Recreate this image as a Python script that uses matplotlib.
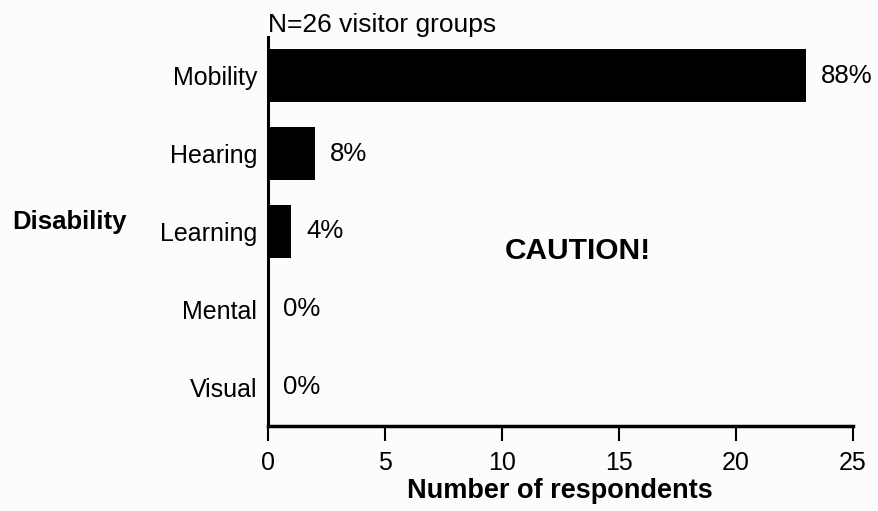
import matplotlib
matplotlib.use("Agg")
import matplotlib.pyplot as plt

# data
categories = ["Mobility", "Hearing", "Learning", "Mental", "Visual"]
respondents = [23, 2, 1, 0, 0]
percent_labels = ["88%", "8%", "4%", "0%", "0%"]
x_ticks = [0, 5, 10, 15, 20, 25]

plt.rcParams['font.family'] = ['Liberation Sans', 'DejaVu Sans']

fig = plt.figure(figsize=(8.79, 5.11), dpi=100, facecolor='#fcfcfc')
ax = fig.add_axes([0.305, 0.166, 0.665, 0.762], facecolor='#fcfcfc')

y = range(len(categories))
bars = ax.barh(y, respondents, height=0.68, color='black')

# percent labels to the right of each bar
for bar, lab in zip(bars, percent_labels):
    ax.annotate(lab, (bar.get_width(), bar.get_y() + bar.get_height() / 2),
                xytext=(11, 0), textcoords='offset points',
                ha='left', va='center', fontsize=18.5)

ax.set_yticks(list(y))
ax.set_yticklabels(categories, fontsize=18)
ax.set_ylim(len(categories) - 0.5, -0.5)
ax.set_xlim(0, 25)
ax.set_xticks(x_ticks)
ax.tick_params(axis='x', labelsize=18, length=11, width=1.5, pad=7, direction='out')
ax.tick_params(axis='y', length=0, pad=8)

for side in ['top', 'right']:
    ax.spines[side].set_visible(False)
ax.spines['left'].set_linewidth(2.2)
ax.spines['bottom'].set_linewidth(2.5)

ax.set_xlabel('Number of respondents', fontsize=19.5, fontweight='bold', labelpad=2)
ax.set_ylabel('Disability', fontsize=18.5, fontweight='bold', rotation=0,
              ha='center', va='center')
ax.yaxis.set_label_coords(-0.34, 0.524)

ax.text(0.0, 1.03, 'N=26 visitor groups', transform=ax.transAxes,
        fontsize=19, ha='left', va='center')
ax.text(0.53, 0.45, 'CAUTION!', transform=ax.transAxes,
        fontsize=21.5, fontweight='bold', ha='center', va='center')

fig.savefig('out.png', dpi=100, facecolor=fig.get_facecolor())
